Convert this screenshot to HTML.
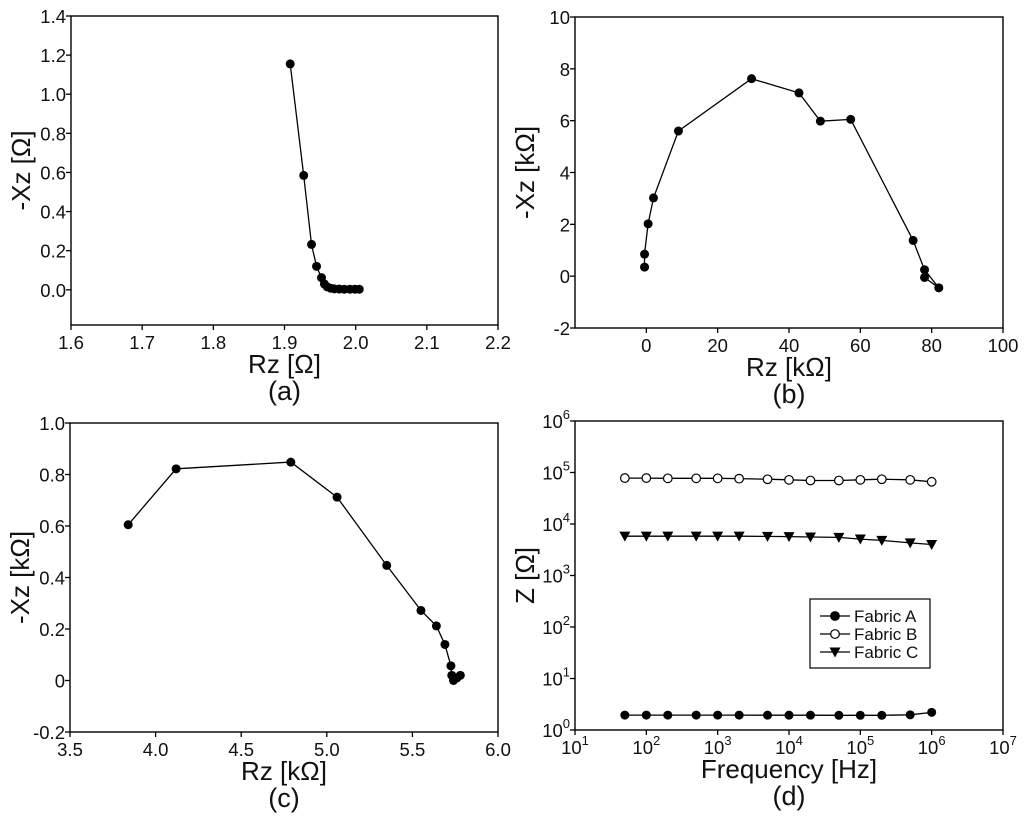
<!DOCTYPE html>
<html><head><meta charset="utf-8"><style>
body{margin:0;background:#fff;}
svg{display:block;font-family:"Liberation Sans",Arial,sans-serif;}
</style></head><body>
<svg id="fig" width="1024" height="824"></svg>
<script>
// Panel (a)
const aR=[1.908,1.927,1.938,1.945,1.952,1.956,1.960,1.965,1.970,1.977,1.984,1.992,1.999,2.005];
const aX=[1.155,0.585,0.232,0.12,0.062,0.03,0.015,0.008,0.005,0.004,0.003,0.003,0.003,0.003];
const aXTicks=[1.6,1.7,1.8,1.9,2.0,2.1,2.2];
const aYTicks=[0.0,0.2,0.4,0.6,0.8,1.0,1.2,1.4];
// Panel (b)
const bR=[-0.5,-0.5,0.5,2,9,29.5,42.8,48.8,57.3,74.8,78,82,78];
const bX=[0.35,0.85,2.02,3.02,5.6,7.62,7.07,5.98,6.05,1.38,0.25,-0.45,-0.05];
const bXTicks=[0,20,40,60,80,100];
const bYTicks=[-2,0,2,4,6,8,10];
// Panel (c)
const cR=[3.84,4.12,4.79,5.06,5.35,5.55,5.64,5.69,5.725,5.73,5.74,5.76,5.78];
const cX=[0.605,0.822,0.848,0.712,0.447,0.272,0.212,0.14,0.057,0.02,0.0,0.01,0.02];
const cXTicks=[3.5,4.0,4.5,5.0,5.5,6.0];
const cYTicks=[-0.2,0,0.2,0.4,0.6,0.8,1.0];
// Panel (d)
const freq=[50,100,200,500,1e3,2e3,5e3,1e4,2e4,5e4,1e5,2e5,5e5,1e6];
const zA=[1.95,1.95,1.95,1.95,1.95,1.95,1.94,1.94,1.94,1.93,1.93,1.93,1.97,2.2];
const zB=[78000,78000,77000,77000,77000,76000,74000,72000,70000,70000,72000,74000,72000,66000];
const zC=[5800,5800,5800,5800,5800,5800,5750,5700,5600,5500,5100,4800,4300,4000];
const dExp=[0,1,2,3,4,5,6,7];

const NS="http://www.w3.org/2000/svg";
const svg=document.getElementById('fig');
function mk(tag,attrs,parent,text){const e=document.createElementNS(NS,tag);for(const k in attrs)e.setAttribute(k,attrs[k]);if(text!==undefined)e.textContent=text;(parent||svg).appendChild(e);return e;}
function lin(d0,d1,p0,p1){return v=>p0+(v-d0)/(d1-d0)*(p1-p0);}

function panel(name,box,xs,ys,xTicks,yTicks,xFmt,yFmt,xTitle,yTitle,label,log){
  const g=mk('g',{});
  
  
  const fr=mk('rect',{x:box.x0,y:box.y0,width:box.x1-box.x0,height:box.y1-box.y0,fill:'none',stroke:'#000','stroke-width':1.4},g);
  
  
  xTicks.forEach(t=>{const x=xs(t);
    mk('line',{x1:x,y1:box.y1,x2:x,y2:box.y1+5,stroke:'#000','stroke-width':1.3},g);
    const tx=mk('text',{x:x,y:box.y1+24,'text-anchor':'middle','font-size':18.5,fill:'#111'},g);
    
    
    if(log){tx.textContent='10';mk('tspan',{dy:-9,'font-size':13},tx,String(t));}else tx.textContent=xFmt(t);
  });
  yTicks.forEach(t=>{const y=ys(t);
    mk('line',{x1:box.x0-5,y1:y,x2:box.x0,y2:y,stroke:'#000','stroke-width':1.3},g);
    const tx=mk('text',{x:box.x0-5,y:y+7,'text-anchor':'end','font-size':18.5,fill:'#111'},g);
    
    
    if(log){tx.textContent='10';mk('tspan',{dy:-9,'font-size':13},tx,String(t));}else tx.textContent=yFmt(t);
  });
  const cx=(box.x0+box.x1)/2;
  const xt=mk('text',{x:cx,y:box.y1+48,'text-anchor':'middle','font-size':26,fill:'#111'},g,xTitle);
  
  
  const cy=(box.y0+box.y1)/2;
  const yt=mk('text',{x:0,y:0,'text-anchor':'middle','font-size':26,fill:'#111',transform:`translate(${box.x0-41},${cy}) rotate(-90)`},g,yTitle);
  
  
  const pl=mk('text',{x:cx,y:box.y1+75,'text-anchor':'middle','font-size':27,fill:'#111'},g,label);
  
  
  return g;
}
function series(g,name,X,Y,xs,ys,marker){
  const pts=X.map((v,i)=>xs(v).toFixed(1)+','+ys(Y[i]).toFixed(1)).join(' ');
  const pl=mk('polyline',{points:pts,fill:'none',stroke:'#000','stroke-width':1.3},g);
  
  
  X.forEach((v,i)=>{const x=xs(v),y=ys(Y[i]);let m;
    if(marker==='tri'){m=mk('polygon',{points:`${x-5.5},${y-4.5} ${x+5.5},${y-4.5} ${x},${y+5.5}`,fill:'#000'},g);}
    else if(marker==='open'){m=mk('circle',{cx:x,cy:y,r:4.3,fill:'#fff',stroke:'#000','stroke-width':1.2},g);}
    else{m=mk('circle',{cx:x,cy:y,r:4.5,fill:'#000'},g);}
    
    
  });
}
const f1=v=>v.toFixed(1), f0=v=>String(v);

// (a)
let box={x0:71,x1:498,y0:16,y1:325};
let xs=lin(1.6,2.2,box.x0,box.x1), ys=lin(1.4,-0.18,box.y0,box.y1);
let g=panel('panel-a',box,xs,ys,aXTicks,aYTicks,f1,f1,'Rz [Ω]','-Xz [Ω]','(a)');
series(g,'series-a',aR,aX,xs,ys,'dot');
// (b)
box={x0:575,x1:1003,y0:17,y1:328};
xs=lin(-20,100,box.x0,box.x1); ys=lin(10,-2,box.y0,box.y1);
g=panel('panel-b',box,xs,ys,bXTicks,bYTicks,f0,f0,'Rz [kΩ]','-Xz [kΩ]','(b)');
series(g,'series-b',bR,bX,xs,ys,'dot');
// (c)
box={x0:70,x1:498,y0:423,y1:732};
xs=lin(3.5,6.0,box.x0,box.x1); ys=lin(1.0,-0.2,box.y0,box.y1);
g=panel('panel-c',box,xs,ys,cXTicks,cYTicks,f1,v=>v===0?'0':v.toFixed(1),'Rz [kΩ]','-Xz [kΩ]','(c)');
series(g,'series-c',cR,cX,xs,ys,'dot');
// (d)
box={x0:575,x1:1003,y0:421,y1:730};
const lx=lin(1,7,box.x0,box.x1), ly=lin(6,0,box.y0,box.y1);
xs=v=>lx(Math.log10(v)); ys=v=>ly(Math.log10(v));
g=panel('panel-d',box,lx,ly,dExp.slice(1),dExp.slice(0,7),f0,f0,'Frequency [Hz]','Z [Ω]','(d)',true);
series(g,'fabric-a',freq,zA,xs,ys,'dot');
series(g,'fabric-b',freq,zB,xs,ys,'open');
series(g,'fabric-c',freq,zC,xs,ys,'tri');
// legend
const lg=mk('g',{},g);


mk('rect',{x:810,y:599,width:120,height:69,fill:'#fff',stroke:'#000','stroke-width':1.2},lg);
[['Fabric A','dot'],['Fabric B','open'],['Fabric C','tri']].forEach((e,i)=>{
  const y=616+i*18;
  const eg=mk('g',{},lg);
  
  
  mk('line',{x1:820,y1:y,x2:850,y2:y,stroke:'#000','stroke-width':1.3},eg);
  if(e[1]==='tri')mk('polygon',{points:`829.5,${y-4.5} 840.5,${y-4.5} 835,${y+5.5}`,fill:'#000'},eg);
  else mk('circle',{cx:835,cy:y,r:4.3,fill:e[1]==='open'?'#fff':'#000',stroke:'#000','stroke-width':1.2},eg);
  mk('text',{x:854,y:y+6,'font-size':17,fill:'#111'},eg,e[0]);
});
</script>
</body></html>
